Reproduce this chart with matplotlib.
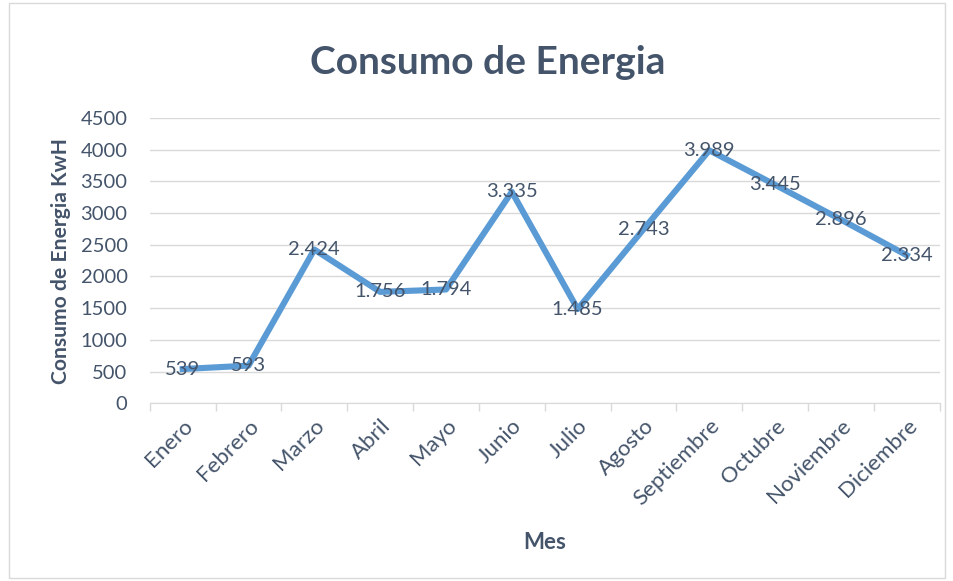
import numpy as np
import matplotlib.pyplot as plt
from matplotlib.patches import Rectangle

# Datos
meses = ["Enero", "Febrero", "Marzo", "Abril", "Mayo", "Junio", "Julio",
         "Agosto", "Septiembre", "Octubre", "Noviembre", "Diciembre"]
consumo = [539, 593, 2424, 1756, 1794, 3335, 1485, 2743, 3989, 3445, 2896, 2334]
etiquetas = ["539", "593", "2.424", "1.756", "1.794", "3.335", "1.485",
             "2.743", "3.989", "3.445", "2.896", "2.334"]
y_ticks = [0, 500, 1000, 1500, 2000, 2500, 3000, 3500, 4000, 4500]

texto = "#44546A"
plt.rcParams['font.family'] = ['Lato', 'DejaVu Sans']

fig = plt.figure(figsize=(9.54, 5.81), dpi=100)
ax = fig.add_axes([0.157, 0.306, 0.828, 0.491])

x = np.arange(len(meses))
ax.plot(x, consumo, color="#5B9BD5", linewidth=4.4, solid_joinstyle="round", zorder=3)

# etiquetas de datos centradas en cada punto
for i, (v, t) in enumerate(zip(consumo, etiquetas)):
    ax.annotate(t, (i, v), ha="center", va="center", fontsize=14.5, color=texto, zorder=4)

ax.set_xlim(-0.5, len(meses) - 0.5)
ax.set_ylim(0, 4500)
ax.set_yticks(y_ticks)
ax.set_yticklabels([str(t) for t in y_ticks], fontsize=14.5, color=texto)
ax.set_xticks(x)
ax.set_xticklabels(meses, rotation=45, ha="right", rotation_mode="anchor",
                   fontsize=16, color=texto)
ax.tick_params(axis="x", length=0, pad=9)
ax.tick_params(axis="y", length=0, pad=16)

# marcas de división entre categorías
ax.set_xticks(np.arange(-0.5, len(meses)), minor=True)
ax.tick_params(axis="x", which="minor", length=6, color="#D9D9D9", width=1)

ax.grid(axis="y", color="#D9D9D9", linewidth=1)
ax.set_axisbelow(True)
for s in ["top", "right", "left"]:
    ax.spines[s].set_visible(False)
ax.spines["bottom"].set_color("#D9D9D9")

ax.set_ylabel("Consumo de Energia KwH", fontsize=15.2, fontweight="bold", color=texto)
ax.yaxis.set_label_coords(-0.1, 0.5)
fig.text(0.571, 0.067, "Mes", fontsize=16, fontweight="bold", color=texto, ha="center", va="center")
fig.text(0.511, 0.893, "Consumo de Energia", fontsize=28, fontweight="bold", color=texto,
         ha="center", va="center")

# borde del área del gráfico
fig.patches.append(Rectangle((0.009, 0.005), 0.982, 0.99, transform=fig.transFigure,
                             fill=False, edgecolor="#D9D9D9", linewidth=1))

fig.savefig("out.png", dpi=100)
